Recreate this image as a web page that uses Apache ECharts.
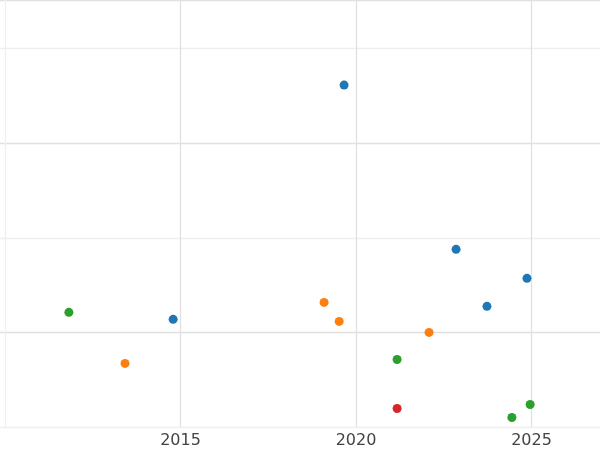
<!DOCTYPE html>
<html><head><meta charset="utf-8">
<script src="https://cdn.jsdelivr.net/npm/echarts@6/dist/echarts.min.js"></script>
<style>html,body{margin:0;padding:0}#c{width:600px;height:450px}</style></head>
<body><div id="c"></div>
<script>
const xTicks = [2015, 2020, 2025];
const blue = [[2019.66,2.614],[2022.85,0.878],[2024.87,0.571],[2023.73,0.275],[2014.79,0.138]];
const orange = [[2019.09,0.317],[2019.52,0.116],[2022.08,0.0],[2013.42,-0.328]];
const green = [[2011.82,0.212],[2021.17,-0.286],[2024.96,-0.762],[2024.44,-0.899]];
const red = [[2021.17,-0.804]];
const colors = ['#1f77b4','#ff7f0e','#2ca02c','#d62728'];
const light='#efefef', dark='#e0e0e0';
const chart = echarts.init(document.getElementById('c'));
const mk=(d,i)=>({type:'scatter',data:d,symbolSize:9,itemStyle:{color:colors[i],opacity:1},silent:true});
chart.setOption({
  animation:false,
  grid:{left:0,right:0,top:0,bottom:23},
  xAxis:{type:'value',min:2009.858,max:2026.95,
    axisLine:{show:false},
    axisTick:{show:false,customValues:[2010,2015,2020,2025]},
    axisLabel:{customValues:xTicks,color:'#444',fontSize:16,fontFamily:'DejaVu Sans',margin:6,formatter:v=>String(v)},
    splitLine:{show:true,lineStyle:{color:[light,dark,dark,dark],width:1.3}}},
  yAxis:{type:'value',min:-1,max:3.513,interval:1,
    axisLine:{show:false},axisTick:{show:false},axisLabel:{show:false},
    splitLine:{show:true,lineStyle:{color:[light,dark],width:1.3}}},
  series:[mk(blue,0),mk(orange,1),mk(green,2),mk(red,3)]
});
</script></body></html>
